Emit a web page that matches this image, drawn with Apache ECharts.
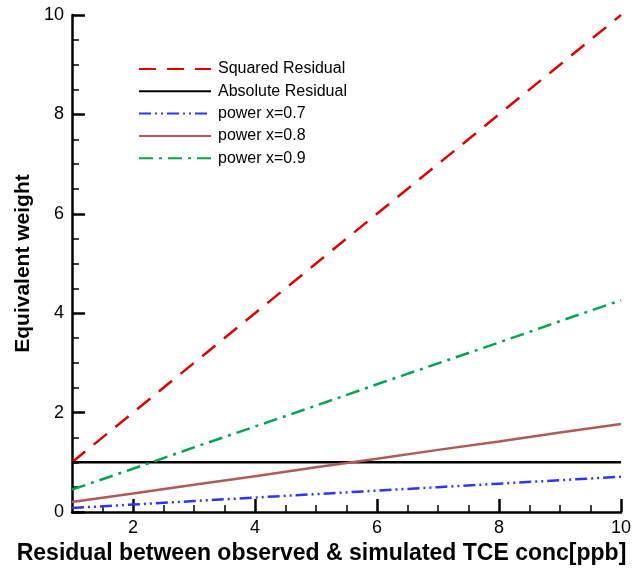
<!DOCTYPE html>
<html><head><meta charset="utf-8">
<script src="https://cdn.jsdelivr.net/npm/echarts@6/dist/echarts.min.js"></script>
<style>html,body{margin:0;padding:0;background:#fff}#c{width:642px;height:569px}</style>
</head><body><div id="c"></div>
<script>
var xValues = [1,2,3,4,5,6,7,8,9,10];
var squared = [1,2,3,4,5,6,7,8,9,10];
var absolute = [1,1,1,1,1,1,1,1,1,1];
var power07 = [0.08,0.15,0.22,0.29,0.36,0.43,0.50,0.57,0.64,0.71];
var power08 = [0.20,0.37,0.55,0.72,0.90,1.07,1.25,1.42,1.60,1.77];
var power09 = [0.45,0.87,1.30,1.72,2.14,2.57,2.99,3.41,3.84,4.26];
var xMajorTicks = [2,4,6,8,10];
var xMinorTicks = [1.5,2.5,3,3.5,4.5,5,5.5,6.5,7,7.5,8.5,9,9.5];
var seriesNames = ['Squared Residual','Absolute Residual','power x=0.7','power x=0.8','power x=0.9'];

function pairs(ys){ return xValues.map(function(x,i){ return [x, ys[i]]; }); }
var font = 'Liberation Sans, Arial, sans-serif';
var chart = echarts.init(document.getElementById('c'));
function mk(name, data, color, type, width){
  return {name:name, type:'line', data:pairs(data), xAxisIndex:0, showSymbol:false, symbol:'none',
    lineStyle:{color:color, width:width, type:type}, itemStyle:{color:color}, animation:false};
}
chart.setOption({
  animation:false,
  grid:{left:72, right:21, top:15, bottom:57, containLabel:false, outerBoundsMode:'none'},
  legend:{orient:'vertical', left:133, top:56, itemWidth:72, itemHeight:14, itemGap:6.3,
    itemStyle:{opacity:0},
    textStyle:{fontFamily:font, fontSize:16, lineHeight:14, color:'#000', padding:[0,0,0,2]}, data:seriesNames},
  xAxis:[{type:'value', min:1, max:10,
    name:'Residual between observed & simulated TCE conc[ppb]', nameLocation:'middle', nameGap:30,
    nameMoveOverlap:false,
    nameTextStyle:{fontFamily:font, fontSize:23, fontWeight:'bold', color:'#000', padding:[0,50,0,0]},
    axisLine:{show:true, lineStyle:{color:'#000', width:2.5}},
    axisTick:{show:true, inside:true, length:13, customValues:xMajorTicks, lineStyle:{color:'#000', width:2.5}},
    axisLabel:{customValues:xMajorTicks, fontFamily:font, fontSize:18, color:'#000', margin:7},
    splitLine:{show:false}},
   {type:'value', min:1, max:10, position:'bottom',
    axisLine:{show:false}, axisLabel:{show:false}, splitLine:{show:false},
    axisTick:{show:true, inside:true, length:7, customValues:xMinorTicks, lineStyle:{color:'#000', width:1.5}}}],
  yAxis:{type:'value', min:0, max:10, interval:2,
    name:'Equivalent weight', nameLocation:'middle', nameGap:38, nameMoveOverlap:false,
    nameTextStyle:{fontFamily:font, fontSize:21, fontWeight:'bold', color:'#000'},
    axisLine:{show:true, lineStyle:{color:'#000', width:2.5}},
    axisTick:{show:true, inside:true, length:13, lineStyle:{color:'#000', width:2.5}},
    minorTick:{show:true, splitNumber:4, length:7, lineStyle:{color:'#000', width:1.5}},
    axisLabel:{fontFamily:font, fontSize:18, color:'#000', margin:8},
    splitLine:{show:false}},
  series:[
    mk(seriesNames[0], squared, '#e00000', [17,11], 2.5),
    mk(seriesNames[1], absolute, '#000000', 'solid', 2.5),
    mk(seriesNames[2], power07, '#3333ff', [12,4,2,4,2,4], 2.5),
    mk(seriesNames[3], power08, '#b05a5a', 'solid', 2.5),
    mk(seriesNames[4], power09, '#00a651', [14,6,3,6], 2.5)
  ]
});
</script></body></html>
